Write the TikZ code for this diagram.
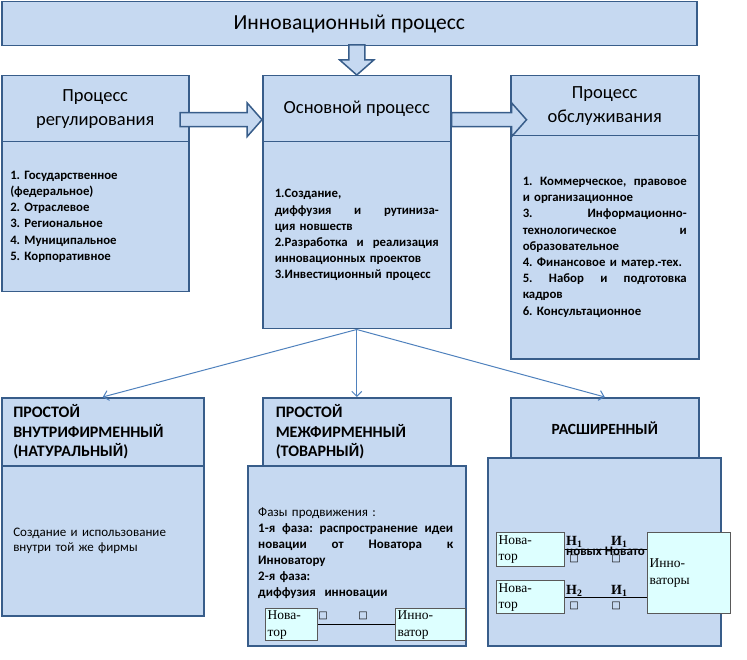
\documentclass[tikz,border=0pt]{standalone}
\usepackage{fontspec}
\setmainfont{Carlito}
\newfontfamily\timesru{Liberation Serif}
\newfontfamily\symbfont{DejaVu Sans}
\usepackage{tikz}
\usetikzlibrary{positioning, calc, arrows.meta}
\frenchspacing
\definecolor{pale_blue}{RGB}{198,217,241}
\definecolor{steel_blue}{RGB}{56,93,138}
\definecolor{link_blue}{RGB}{79,129,189}
\definecolor{pale_cyan}{RGB}{221,255,255}
\tikzstyle{block} = [rectangle, draw=steel_blue, fill=pale_blue, line width=1.5pt,
                    anchor=north west, inner sep=0pt]
\tikzstyle{bigarrow} = [draw=steel_blue, fill=pale_blue, line width=1.5pt]
\tikzstyle{link} = [link_blue, line width=1pt, -{Straight Barb[length=5pt,width=10pt]}]
\tikzstyle{headtext} = [font=\fontsize{18.5}{24}\selectfont, align=center]
\tikzstyle{capstext} = [font=\fontsize{16}{19.5}\selectfont\bfseries, align=left]
\tikzstyle{listtext} = [font=\fontsize{12.8}{16.2}\selectfont\bfseries, align=left]
\tikzstyle{smallbox} = [rectangle, draw=black!65, fill=pale_cyan, line width=1.3pt,
                    anchor=north west, inner sep=1pt, align=left,
                    font=\timesru\fontsize{13.5}{17}\selectfont]
\tikzstyle{sq} = [inner sep=0pt, font=\symbfont\fontsize{10}{10}\selectfont]
\tikzstyle{idx} = [anchor=base west, inner sep=0pt, font=\timesru\bfseries\fontsize{14}{14}\selectfont]

\begin{document}
\begin{tikzpicture}[x=1pt, y=1pt]

    \useasboundingbox (0,0) rectangle (747,-660);

    % upper row
    \node[block, minimum width=695pt, minimum height=44pt, font=\fontsize{21.5}{24}\selectfont]
        (title) at (1,-1) {Инновационный процесс};

    \node[block, minimum width=187pt, minimum height=66pt, headtext] (reghead) at (1,-75)
        {Процесс\\регулирования};
    \node[block, minimum width=187pt, minimum height=150pt, text width=170pt, listtext]
        (regbody) at (1,-141) {1. Государственное\\(федеральное)\\2. Отраслевое\\
        3. Региональное\\4. Муниципальное\\5. Корпоративное};

    \node[block, minimum width=188pt, minimum height=66pt, headtext] (mainhead) at (262,-75)
        {Основной процесс};
    \node[block, minimum width=188pt, minimum height=187pt, text width=164pt, listtext]
        (mainbody) at (262,-141) {1.Создание,\\диффузия\hfill и\hfill рутиниза-\\ция новшеств\\
        2.Разработка\hfill и\hfill реализация\\инновационных проектов\\3.Инвестиционный процесс};

    \node[block, minimum width=188pt, minimum height=60pt, headtext] (servhead) at (510,-75)
        {Процесс\\обслуживания};
    \node[block, minimum width=188pt, minimum height=223pt, text width=164pt, listtext]
        (servbody) at (510,-135) {1.\hfill Коммерческое,\hfill правовое\\и организационное\\
        3.\hfill Информационно-\\технологическое\hfill и\\образовательное\\
        4. Финансовое и матер.-тех.\\5.\hfill Набор\hfill и\hfill подготовка\\кадров\\
        6. Консультационное};

    % block arrows
    \draw[bigarrow] ($(mainhead.north)+(-8,30)$) -- ++(16,0) -- ++(0,-15) -- ++(9,0)
        -- (mainhead.north) -- ++(-17,15) -- ++(9,0) -- cycle;
    \coordinate (regtip) at ($(mainhead.west)+(0,-11)$);
    \draw[bigarrow] ($(regtip)+(-82,7)$) -- ++(67,0) -- ++(0,10) -- (regtip)
        -- ++(-15,-17) -- ++(0,10) -- ++(-67,0) -- cycle;
    \coordinate (servtip) at ($(mainhead.east)+(75,-11)$);
    \draw[bigarrow] ($(servtip)+(-75,7)$) -- ++(60,0) -- ++(0,10) -- (servtip)
        -- ++(-15,-17) -- ++(0,10) -- ++(-60,0) -- cycle;

    % lower row
    \node[block, minimum width=202pt, minimum height=68pt, text width=179pt, capstext]
        (innerhead) at (1,-397) {ПРОСТОЙ\\ВНУТРИФИРМЕННЫЙ\\(НАТУРАЛЬНЫЙ)};
    \node[block, minimum width=202pt, minimum height=150pt, text width=179pt,
        font=\fontsize{13}{15.5}\selectfont, align=left]
        (innerbody) at (1,-465) {Создание и использование\\внутри той же фирмы};

    \node[block, minimum width=218pt, minimum height=180pt] (marketbody) at (247,-465) {};
    \node[block, minimum width=188pt, minimum height=68pt, text width=162pt, capstext]
        (markethead) at (262,-397) {ПРОСТОЙ\\МЕЖФИРМЕННЫЙ\\(ТОВАРНЫЙ)};
    \node[listtext, font=\fontsize{13}{16}\selectfont\bfseries, anchor=north west,
        inner sep=0pt, text width=195pt] (markettext)
        at (258,-507.5) {{\mdseries Фазы продвижения :}\\
        1-я\hfill фаза:\hfill распространение\hfill идеи\\
        новации\hfill от\hfill Новатора\hfill к\\Инноватору\\2-я фаза:\\диффузия\ \ инновации};
    \node[smallbox, minimum width=52pt, minimum height=32pt, text width=48pt] (nov)
        at (265,-608) {Нова-\\тор};
    \node[smallbox, minimum width=70pt, minimum height=32pt, text width=66pt] (innov)
        at (395,-608) {Инно-\\ватор};
    \draw[line width=1pt] (nov.east) -- (innov.west);
    \node[sq] (sqa) at (323,-616) {□};
    \node[sq] (sqb) at (363,-616) {□};

    \node[block, minimum width=233pt, minimum height=188pt] (widebody) at (487,-457) {};
    \node[block, minimum width=188pt, minimum height=60pt, capstext,
        font=\fontsize{15.5}{19}\selectfont\bfseries] (widehead) at (510,-397) {РАСШИРЕННЫЙ};
    \node[smallbox, minimum width=68pt, minimum height=34pt, text width=64pt,
        font=\timesru\fontsize{13.5}{16}\selectfont] (novone) at (496,-532) {Нова-\\тор};
    \node[smallbox, minimum width=68pt, minimum height=33pt, text width=64pt,
        font=\timesru\fontsize{13.5}{16}\selectfont] (novtwo) at (496,-580) {Нова-\\тор};
    \draw[line width=1pt] (novone.east) -- ++(83,0) coordinate (lineone);
    \draw[line width=1pt] (novtwo.east) -- ++(83,0) coordinate (linetwo);
    \node[idx] (hone) at (566,-545) {Н\textsubscript{1}};
    \node[idx] (ione) at (611,-545) {И\textsubscript{1}};
    \node[sq] (sqc) at (574,-559) {□};
    \node[sq] (sqd) at (616,-559) {□};
    \node[anchor=base west, inner sep=0pt, font=\fontsize{13}{13}\selectfont\bfseries]
        (clip) at (566,-555) {новых Новато};
    \node[idx] (htwo) at (566,-594) {Н\textsubscript{2}};
    \node[idx] (itwo) at (611,-594) {И\textsubscript{1}};
    \node[sq] (sqe) at (574,-606) {□};
    \node[sq] (sqf) at (616,-606) {□};
    \node[smallbox, minimum width=83pt, minimum height=81pt, text width=79pt] (innovs)
        at (647,-532) {Инно-\\ваторы};

    % thin arrows
    \draw[link] (mainbody.south) -- (innerhead.north);
    \draw[link] (mainbody.south) -- (markethead.north);
    \draw[link] (mainbody.south) -- (widehead.north);

\end{tikzpicture}
\end{document}
